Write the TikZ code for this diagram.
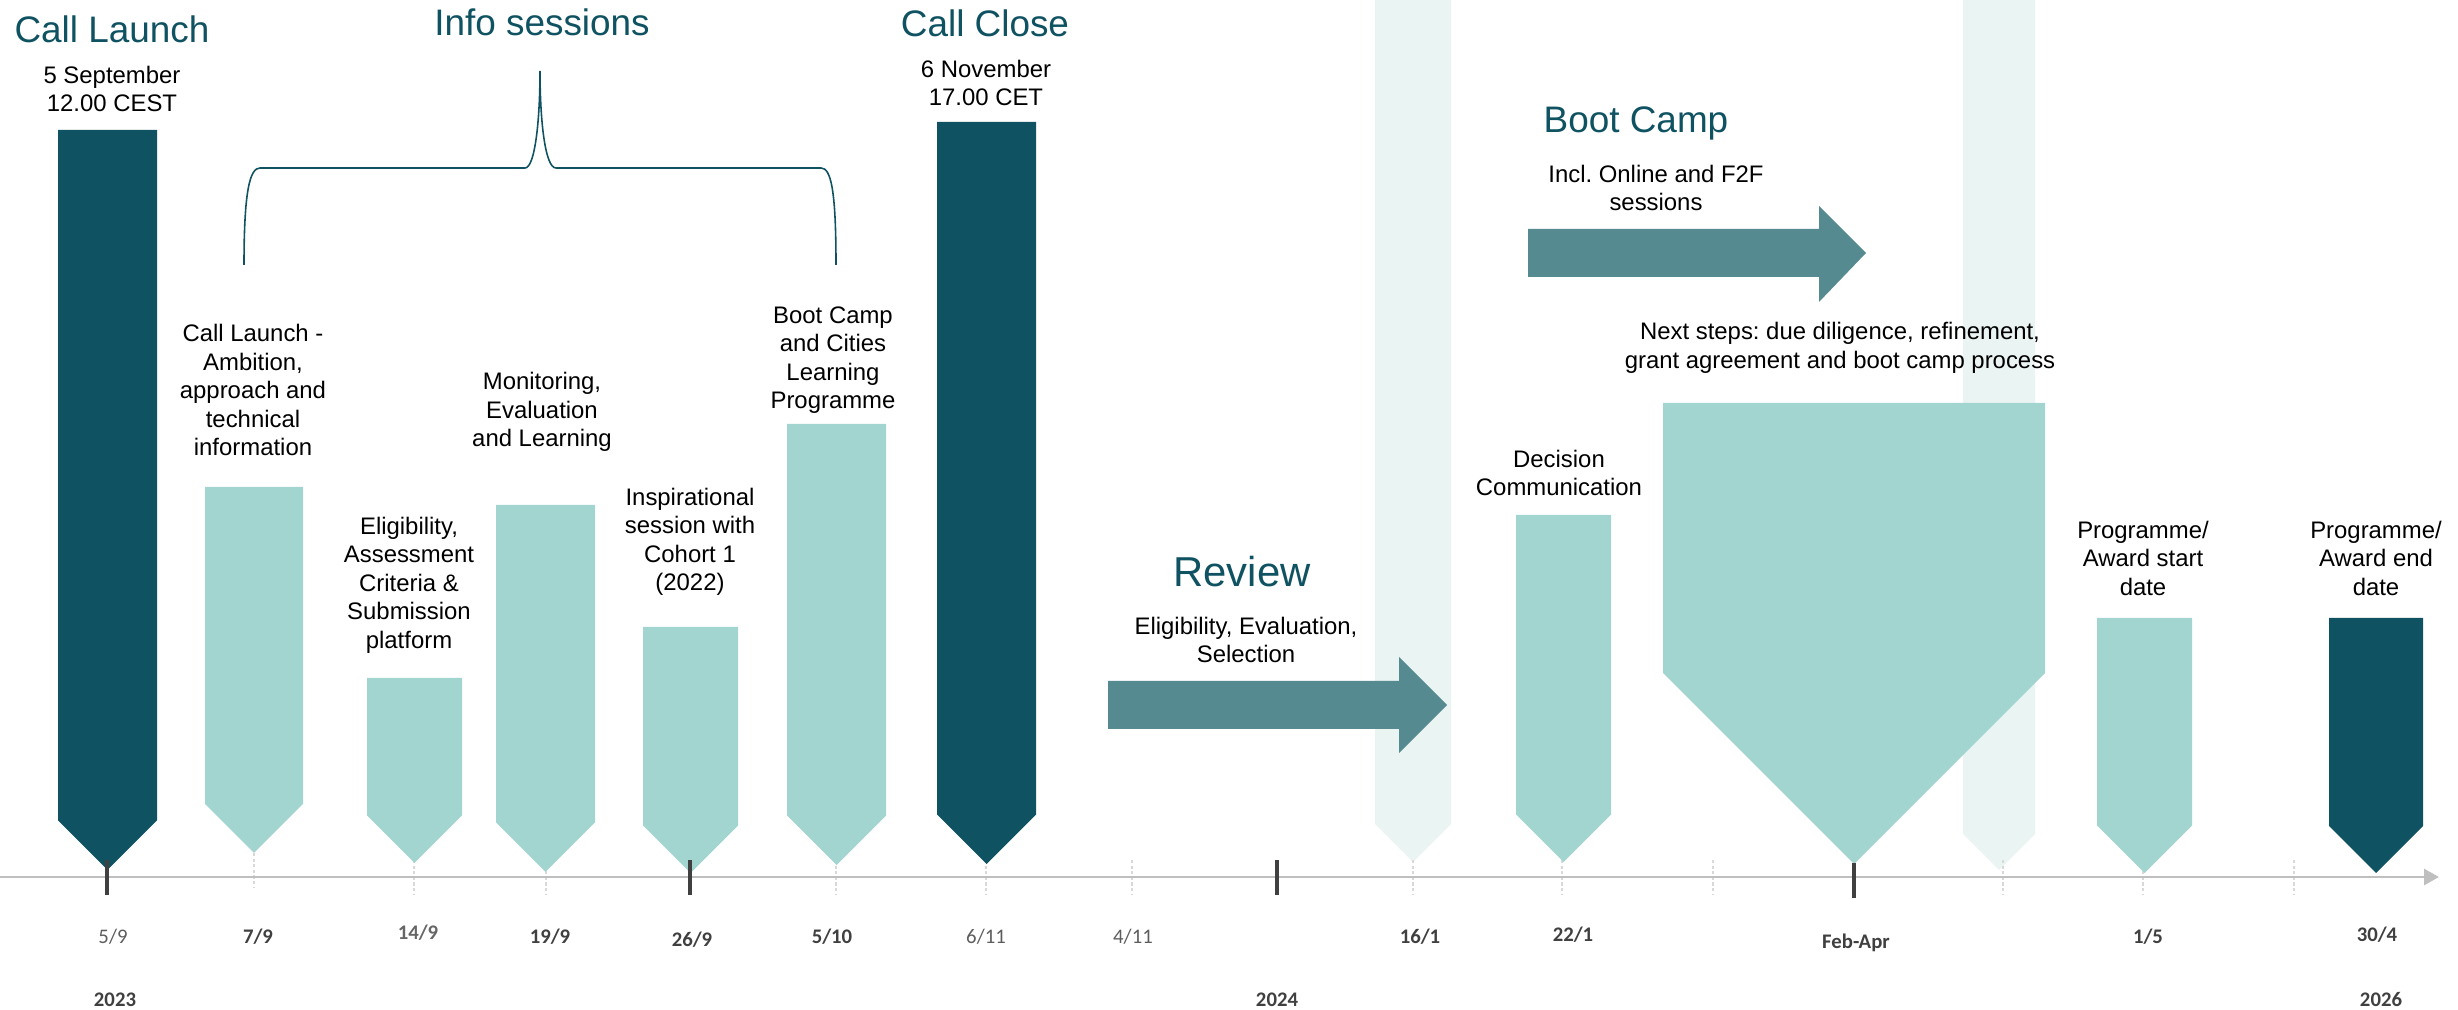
\documentclass[tikz,border=0pt]{standalone}
\usepackage{fontspec}
\setmainfont{Liberation Sans}
\newfontfamily\axisfont{Carlito}
\usetikzlibrary{arrows.meta}
\frenchspacing
\definecolor{tealdark}{HTML}{0F5261}
\definecolor{teallight}{HTML}{A3D5D0}
\definecolor{tealpale}{HTML}{EAF4F2}
\definecolor{tealmid}{HTML}{558A91}
\definecolor{axisgray}{HTML}{404040}
\definecolor{axisline}{HTML}{BFBFBF}
\definecolor{minorgray}{HTML}{D9D9D9}
\tikzset{
  darkbar/.style    = {fill=tealdark},
  lightbar/.style   = {fill=teallight},
  palebar/.style    = {fill=tealpale},
  phasearrow/.style = {fill=tealmid},
  title/.style      = {text=tealdark, font=\fontsize{10.5}{12}\selectfont, inner sep=0pt, anchor=base},
  note/.style       = {align=center, font=\fontsize{6.8}{8.1}\selectfont, inner sep=0pt},
  datelbl/.style    = {text=axisgray!85, font=\axisfont\fontsize{5.9}{7}\selectfont, inner sep=0pt},
  datebold/.style   = {text=axisgray, font=\axisfont\bfseries\fontsize{5.9}{7}\selectfont, inner sep=0pt},
  majortick/.style  = {draw=axisgray, line width=0.95pt},
  minortick/.style  = {draw=minorgray, line width=0.4pt, dash pattern=on 0.9pt off 0.7pt},
  timeline/.style   = {draw=axisline, line width=0.85pt, -{Triangle[length=1.5mm, width=1.6mm]}},
  bracket/.style    = {draw=tealdark, line width=0.45pt},
}
\begin{document}
\begin{tikzpicture}
  \useasboundingbox (0,0) rectangle (24.58,10.10);

  %% Background bands
  \fill[palebar] (13.75,10.10) -- (14.51,10.10) -- (14.51,1.86) -- (14.13,1.48) -- (13.75,1.86) -- cycle;
  \fill[palebar] (19.63,10.10) -- (20.35,10.10) -- (20.35,1.76) -- (19.99,1.40) -- (19.63,1.76) -- cycle;

  %% Minor ticks
  \draw[minortick] (2.54,1.57) -- (2.54,1.23);
  \draw[minortick] (4.14,1.50) -- (4.14,1.15);
  \draw[minortick] (5.46,1.50) -- (5.46,1.15);
  \draw[minortick] (8.36,1.50) -- (8.36,1.15);
  \draw[minortick] (9.86,1.50) -- (9.86,1.15);
  \draw[minortick] (11.32,1.50) -- (11.32,1.15);
  \draw[minortick] (14.13,1.50) -- (14.13,1.15);
  \draw[minortick] (15.62,1.50) -- (15.62,1.15);
  \draw[minortick] (17.13,1.50) -- (17.13,1.15);
  \draw[minortick] (20.03,1.50) -- (20.03,1.15);
  \draw[minortick] (21.43,1.50) -- (21.43,1.15);
  \draw[minortick] (22.94,1.50) -- (22.94,1.15);

  %% Timeline
  \coordinate (tlStart) at (0,1.33);
  \coordinate (tlEnd)   at (24.39,1.33);
  \draw[timeline] (tlStart) -- (tlEnd);

  %% Milestone bars
  \fill[darkbar]  (0.58,8.80) -- (1.57,8.80) -- (1.57,1.895) -- (1.075,1.40) -- (0.58,1.895) -- cycle;
  \fill[lightbar] (2.05,5.23) -- (3.03,5.23) -- (3.03,2.06) -- (2.54,1.57) -- (2.05,2.06) -- cycle;
  \fill[lightbar] (3.67,3.32) -- (4.62,3.32) -- (4.62,1.945) -- (4.145,1.47) -- (3.67,1.945) -- cycle;
  \fill[lightbar] (4.96,5.05) -- (5.95,5.05) -- (5.95,1.875) -- (5.455,1.38) -- (4.96,1.875) -- cycle;
  \fill[lightbar] (6.43,3.83) -- (7.38,3.83) -- (7.38,1.845) -- (6.905,1.37) -- (6.43,1.845) -- cycle;
  \fill[lightbar] (7.87,5.86) -- (8.86,5.86) -- (8.86,1.945) -- (8.365,1.45) -- (7.87,1.945) -- cycle;
  \fill[darkbar]  (9.37,8.88) -- (10.36,8.88) -- (10.36,1.955) -- (9.865,1.46) -- (9.37,1.955) -- cycle;
  \fill[lightbar] (15.16,4.95) -- (16.11,4.95) -- (16.11,1.955) -- (15.635,1.48) -- (15.16,1.955) -- cycle;
  \fill[lightbar] (16.63,6.07) -- (20.45,6.07) -- (20.45,3.37) -- (18.54,1.46) -- (16.63,3.37) -- cycle;
  \fill[lightbar] (20.97,3.92) -- (21.92,3.92) -- (21.92,1.845) -- (21.445,1.37) -- (20.97,1.845) -- cycle;
  \fill[darkbar]  (23.29,3.92) -- (24.23,3.92) -- (24.23,1.84) -- (23.76,1.37) -- (23.29,1.84) -- cycle;

  %% Phase arrows
  \fill[phasearrow] (11.08,3.29) -- (13.99,3.29) -- (13.99,3.53) -- (14.47,3.05)
                    -- (13.99,2.57) -- (13.99,2.81) -- (11.08,2.81) -- cycle;
  \fill[phasearrow] (15.28,7.81) -- (18.19,7.81) -- (18.19,8.04) -- (18.66,7.57)
                    -- (18.19,7.08) -- (18.19,7.33) -- (15.28,7.33) -- cycle;

  %% Major ticks
  \draw[majortick] (1.07,1.50) -- (1.07,1.15);
  \draw[majortick] (6.90,1.50) -- (6.90,1.15);
  \draw[majortick] (12.77,1.50) -- (12.77,1.15);
  \draw[majortick] (18.54,1.47) -- (18.54,1.12);

  %% Info sessions brace
  \draw[bracket] (2.44,7.45) .. controls (2.44,8.20) and (2.50,8.42) .. (2.60,8.42)
                 -- (5.25,8.42) .. controls (5.35,8.42) and (5.40,8.90) .. (5.40,9.39)
                 .. controls (5.40,8.90) and (5.45,8.42) .. (5.56,8.42)
                 -- (8.21,8.42) .. controls (8.31,8.42) and (8.36,8.20) .. (8.36,7.45);

  %% Titles
  \node[title] (launchT) at (1.12,9.67)  {Call Launch};
  \node[title] (infoT)   at (5.42,9.74)  {Info sessions};
  \node[title] (closeT)  at (9.85,9.73)  {Call Close};
  \node[title] (bootT)   at (16.36,8.77) {Boot Camp};
  \node[title, font=\fontsize{11.9}{13}\selectfont] (reviewT) at (12.42,4.23) {Review};

  %% Notes
  \node[note] (launchN)   at (1.12,9.21)  {5 September\\12.00 CEST};
  \node[note] (closeN)    at (9.86,9.27)  {6 November\\17.00 CET};
  \node[note] (bootN)     at (16.56,8.22) {Incl. Online and F2F\\sessions};
  \node[note] (nextN)     at (18.40,6.62) {Next steps: due diligence, refinement,\\grant agreement and boot camp process};
  \node[note] (reviewN)   at (12.46,3.70) {Eligibility, Evaluation,\\Selection};
  \node[note] (decisionN) at (15.59,5.37) {Decision\\Communication};
  \node[note] (startN)    at (21.43,4.52) {Programme/\\Award start\\date};
  \node[note] (endN)      at (23.76,4.52) {Programme/\\Award end\\date};
  \node[note] (sessA)     at (2.53,6.20)  {Call Launch -\\Ambition,\\approach and\\technical\\information};
  \node[note] (sessB)     at (4.09,4.25)  {Eligibility,\\Assessment\\Criteria \&\\Submission\\platform};
  \node[note] (sessC)     at (5.42,5.98)  {Monitoring,\\Evaluation\\and Learning};
  \node[note] (sessD)     at (6.90,4.68)  {Inspirational\\session with\\Cohort 1\\(2022)};
  \node[note] (sessE)     at (8.33,6.50)  {Boot Camp\\and Cities\\Learning\\Programme};

  %% Axis labels
  \node[datelbl]  (d59)   at (1.13,0.73)  {5/9};
  \node[datebold] (d79)   at (2.58,0.73)  {7/9};
  \node[datebold, text=axisgray!80] (d149) at (4.18,0.77) {14/9};
  \node[datebold] (d199)  at (5.50,0.73)  {19/9};
  \node[datebold] (d269)  at (6.92,0.70)  {26/9};
  \node[datebold] (d510)  at (8.32,0.73)  {5/10};
  \node[datelbl]  (d611)  at (9.86,0.73)  {6/11};
  \node[datelbl]  (d411)  at (11.33,0.73) {4/11};
  \node[datebold] (d161)  at (14.20,0.73) {16/1};
  \node[datebold] (d221)  at (15.73,0.75) {22/1};
  \node[datebold] (dfeb)  at (18.56,0.67) {Feb-Apr};
  \node[datebold] (d15)   at (21.48,0.73) {1/5};
  \node[datebold] (d304)  at (23.77,0.75) {30/4};
  \node[datebold] (y2023) at (1.15,0.10)  {2023};
  \node[datebold] (y2024) at (12.77,0.10) {2024};
  \node[datebold] (y2026) at (23.81,0.10) {2026};

\end{tikzpicture}
\end{document}
